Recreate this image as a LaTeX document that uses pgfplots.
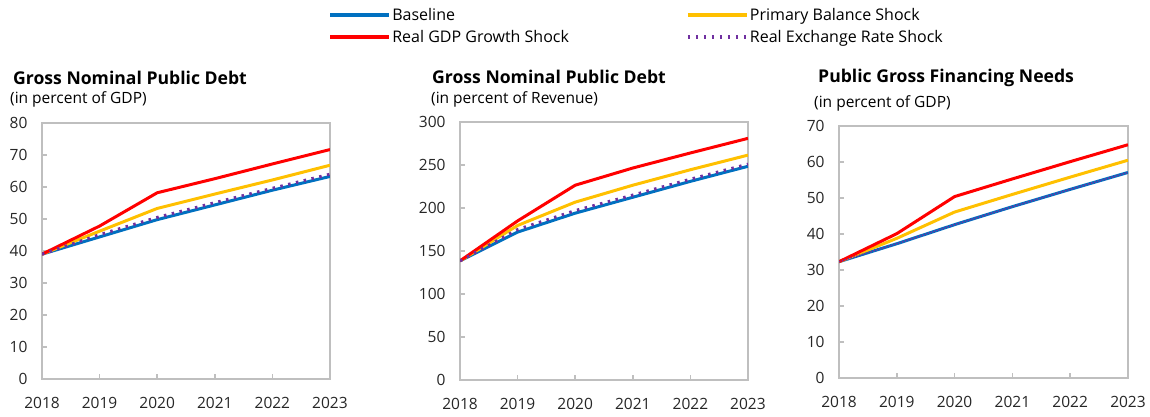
\documentclass[border=0pt]{standalone}
\usepackage{pgfplots}
\pgfplotsset{compat=1.18}
\usepackage{fontspec}
\setmainfont{Open Sans}
\definecolor{cBase}{HTML}{0070C0}
\definecolor{cPB}{HTML}{FFC000}
\definecolor{cGDP}{HTML}{FF0000}
\definecolor{cRER}{HTML}{7030A0}
\definecolor{cAx}{HTML}{BFBFBF}
\pgfplotsset{
  panel/.style={
    scale only axis,
    anchor=south west,
    xmin=2018, xmax=2023,
    xtick={2018,...,2023},
    ymin=0,
    axis line style={draw=cAx, line width=2pt},
    tick style={draw=cAx, line width=1.5pt},
    major tick length=5pt,
    xtick pos=bottom, ytick pos=left,
    tick align=inside,
    /pgf/number format/assume math mode=true,
    /pgf/number format/1000 sep={},
    ticklabel style={font=\fontsize{15.5}{18}\selectfont, text=black!85},
    xticklabel style={yshift=-15pt},
    yticklabel style={xshift=-11pt},
    every axis plot/.append style={line width=3pt, line join=round},
  },
  sBase/.style={draw=cBase},
  sPB/.style={draw=cPB},
  sGDP/.style={draw=cGDP},
  sRER/.style={draw=cRER, line width=3pt, dash pattern=on 2.5pt off 5.5pt},
}
\begin{document}
\begin{tikzpicture}
\path[use as bounding box] (0,0) rectangle (1150pt,416pt);
% Panel 1
\begin{axis}[panel, at={(42pt,37pt)}, width=288pt, height=256pt,
  ymax=80, ytick={0,10,...,80},
  legend columns=2, legend cell align=left,
  legend style={at={(axis description cs:0.9935,1.452)}, anchor=north west, draw=none, fill=none,
    inner sep=0pt, row sep=6pt,
    nodes={inner sep=1pt},
    font=\fontsize{16}{18}\selectfont,
    /tikz/every even column/.append style={column sep=116pt}},
  legend image code/.code={\draw[#1, line width=4pt] (0pt,0pt) -- (59pt,0pt);}]
\addlegendimage{sBase}\addlegendentry{Baseline}
\addlegendimage{sPB}\addlegendentry{Primary Balance Shock}
\addlegendimage{sGDP}\addlegendentry{Real GDP Growth Shock}
\addlegendimage{sRER}\addlegendentry{Real Exchange Rate Shock}
\addplot[sBase, forget plot] coordinates {(2018,39.0) (2019,44.4) (2020,49.8) (2021,54.4) (2022,59.0) (2023,63.3)};
\addplot[sPB, forget plot] coordinates {(2018,39.0) (2019,46.2) (2020,53.3) (2021,57.8) (2022,62.2) (2023,66.8)};
\addplot[sGDP, forget plot] coordinates {(2018,39.0) (2019,47.8) (2020,58.2) (2021,62.6) (2022,67.2) (2023,71.7)};
\addplot[sRER, forget plot] coordinates {(2018,39.0) (2019,45.1) (2020,50.5) (2021,55.1) (2022,59.6) (2023,64.0)};
\end{axis}
% Panel 2
\begin{axis}[panel, at={(460pt,36pt)}, width=288pt, height=258pt,
  ymax=300, ytick={0,50,...,300}]
\addplot[sBase] coordinates {(2018,138.5) (2019,172.0) (2020,194.0) (2021,212.5) (2022,231.0) (2023,248.5)};
\addplot[sPB] coordinates {(2018,138.5) (2019,179.7) (2020,206.8) (2021,226.5) (2022,244.5) (2023,261.5)};
\addplot[sGDP] coordinates {(2018,138.5) (2019,185.0) (2020,226.5) (2021,246.5) (2022,264.0) (2023,281.0)};
\addplot[sRER] coordinates {(2018,138.5) (2019,175.0) (2020,197.0) (2021,215.0) (2022,233.5) (2023,251.0)};
\end{axis}
% Panel 3
\begin{axis}[panel, at={(839pt,38pt)}, width=289pt, height=252pt,
  ymax=70, ytick={0,10,...,70}]
\addplot[sBase] coordinates {(2018,32.3) (2019,37.3) (2020,42.6) (2021,47.6) (2022,52.4) (2023,57.1)};
\addplot[sPB] coordinates {(2018,32.3) (2019,38.8) (2020,46.1) (2021,51.0) (2022,55.8) (2023,60.5)};
\addplot[sGDP] coordinates {(2018,32.3) (2019,40.1) (2020,50.4) (2021,55.3) (2022,60.1) (2023,64.8)};
\addplot[sRER, line width=1.5pt, dash pattern=on 1.5pt off 1.5pt] coordinates {(2018,32.3) (2019,37.3) (2020,42.6) (2021,47.6) (2022,52.4) (2023,57.1)};
\end{axis}
% Titles
\tikzset{ttl/.style={anchor=west, inner sep=0pt, font=\bfseries\fontsize{17.6}{20}\selectfont},
         sub/.style={anchor=west, inner sep=0pt, font=\fontsize{15.5}{18}\selectfont}}
\node[ttl] at (13pt,338pt) {Gross Nominal Public Debt};
\node[sub] at (10pt,317pt) {(in percent of GDP)};
\node[ttl] at (432pt,339pt) {Gross Nominal Public Debt};
\node[sub] at (431pt,317pt) {(in percent of Revenue)};
\node[ttl] at (818pt,338pt) {Public Gross Financing Needs};
\node[sub] at (814pt,313pt) {(in percent of GDP)};
\end{tikzpicture}
\end{document}
